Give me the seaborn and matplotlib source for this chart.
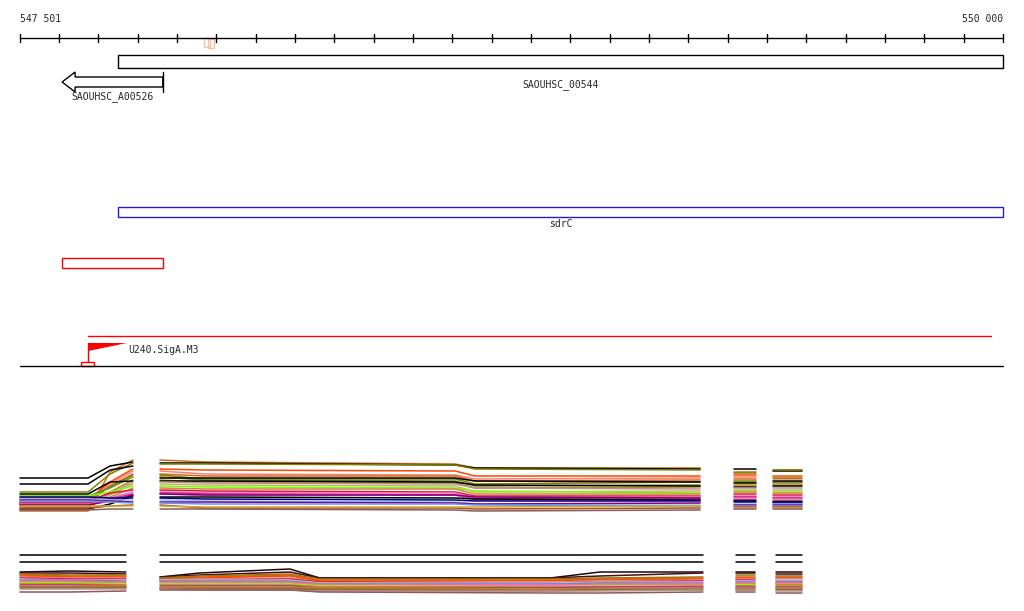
import matplotlib
matplotlib.use("Agg")
import matplotlib.pyplot as plt
from matplotlib.patches import Rectangle, Polygon
import seaborn as sns
import pandas as pd

# ---- genome region ----
region_start = 547501
region_end = 550000
ruler_ticks = [547501] + list(range(547600, 550001, 100))

# features (start, end)
gene_00544 = (547750, 550000)
gene_A00526 = (547608, 547864)
sdrC = (547750, 550000)
red_region = (547608, 547864)
pink_marks = [(547969, 547984), (547979, 547994)]
terminator_line = (547674, 549969)
promoter_pos = 547674
promoter_flag_end = 547773
promoter_box = (547656, 547689)

# ---- expression traces, panel 1 ----
p1_seg_pos = [
    [547501, 547674, 547730, 547788],
    [547857, 547971, 548607, 548658, 549230],
    [549316, 549372],
    [549415, 549489],
]
p1_colors = ["chocolate", "black", "olive", "orangered", "salmon", "chocolate",
             "olive", "olivedrab", "black", "darkgoldenrod", "black", "rosybrown",
             "darkkhaki", "lawngreen", "peru", "crimson", "hotpink",
             "mediumvioletred", "palevioletred", "purple", "black", "navy",
             "lightskyblue", "darkmagenta", "cornflowerblue", "sienna",
             "goldenrod", "#8b5a5a"]
p1_seg1 = [[1, 1, 40, 52], [34, 34, 46, 50], [20, 20, 38, 49], [12, 12, 30, 43],
           [10, 10, 28, 41], [9, 9, 26, 38], [14, 14, 25, 37], [16, 16, 24, 35],
           [28, 28, 42, 46], [8, 8, 20, 32], [18, 18, 30, 31], [7, 7, 18, 30],
           [6, 6, 17, 28], [16, 16, 20, 26], [5, 5, 15, 24], [11, 11, 19, 22],
           [10, 10, 14, 20], [9, 9, 13, 18], [8, 8, 12, 17], [7, 7, 11, 17],
           [3, 3, 8, 16], [15, 15, 14, 14], [13, 13, 12, 12], [12, 12, 11, 10],
           [11, 11, 10, 9], [4, 4, 6, 7], [6, 6, 6, 6], [2, 2, 3, 3]]
p1_seg2 = [[52, 50, 48, 44, 44], [49, 49, 47, 44, 43], [48, 48, 47, 43, 42],
           [43, 42, 41, 36, 36], [41, 38, 37, 33, 34], [38, 36, 36, 31, 32],
           [37, 33, 33, 28, 30], [35, 32, 31, 26, 27], [34, 34, 34, 31, 30],
           [32, 30, 29, 24, 25], [31, 31, 30, 27, 26], [30, 29, 28, 24, 23],
           [28, 27, 26, 20, 21], [26, 25, 24, 21, 19], [24, 23, 23, 18, 18],
           [22, 21, 20, 16, 16], [20, 19, 19, 14, 15], [19, 18, 17, 13, 13],
           [18, 17, 17, 12, 12], [18, 17, 17, 15, 14], [15, 15, 14, 13, 12],
           [14, 13, 12, 11, 11], [12, 11, 10, 8, 8], [10, 10, 9, 8, 9],
           [9, 8, 8, 7, 6], [7, 4, 4, 3, 4], [6, 5, 5, 5, 6], [3, 3, 2, 1, 2]]
p1_seg3 = [40, 43, 39, 37, 35, 33, 31, 30, 29, 27, 25, 24, 22, 21, 20, 18, 16,
           15, 14, 12, 11, 10, 8, 7, 6, 5, 4, 3]
p1_seg4 = [42, 41, 42, 36, 33, 30, 34, 29, 31, 27, 26, 24, 22, 20, 19, 17, 15,
           14, 13, 11, 10, 9, 8, 7, 6, 5, 4, 3]

# ---- expression traces, panel 2 ----
p2_seg_pos = [
    [547501, 547628, 547770],
    [547857, 547958, 548187, 548263, 548849, 548975, 549237],
    [549321, 549369],
    [549422, 549489],
]
p2_colors = ["black", "black", "#1a0a0a", "#4a0a1a", "olive", "chocolate",
             "orangered", "salmon", "crimson", "lightskyblue", "mediumpurple",
             "peru", "hotpink", "lawngreen", "darkgoldenrod", "#9b30b0",
             "tomato", "olivedrab", "sienna", "rosybrown", "#8b5a5a"]
p2_seg1 = [[40, 40, 40], [33, 33, 33], [23, 24, 23], [22, 22, 21], [21, 20, 20],
           [20, 19, 19], [19, 18, 18], [18, 17, 17], [17, 16, 16], [16, 15, 15],
           [15, 15, 14], [14, 14, 13], [13, 13, 12], [12, 12, 11], [11, 11, 10],
           [10, 10, 9], [9, 9, 9], [8, 8, 8], [7, 7, 7], [6, 6, 6], [3, 3, 4]]
p2_seg2 = [[40, 40, 40, 40, 40, 40, 40], [33, 33, 33, 33, 33, 33, 33],
           [18, 22, 26, 17, 17, 23, 23], [18, 20, 23, 17, 17, 19, 22],
           [17, 19, 21, 16, 16, 17, 18], [16, 18, 20, 15, 15, 16, 17],
           [16, 17, 19, 14, 14, 15, 16], [15, 16, 17, 13, 13, 14, 15],
           [14, 15, 16, 13, 12, 13, 14], [15, 15, 15, 12, 12, 13, 13],
           [14, 14, 14, 11, 11, 12, 12], [13, 13, 13, 11, 10, 11, 11],
           [12, 12, 12, 10, 10, 10, 11], [11, 11, 11, 9, 8, 9, 9],
           [10, 10, 10, 8, 8, 8, 9], [9, 9, 9, 7, 7, 8, 8],
           [8, 8, 8, 7, 6, 7, 7], [7, 7, 7, 6, 5, 6, 6],
           [6, 6, 6, 5, 4, 5, 5], [6, 5, 5, 4, 4, 4, 5], [5, 5, 5, 3, 2, 2, 3]]
p2_seg3 = [40, 33, 23, 22, 20, 18, 17, 16, 15, 14, 13, 12, 11, 10, 9, 8, 7, 6,
           5, 5, 3]
p2_seg4 = [40, 33, 23, 21, 19, 18, 17, 16, 14, 15, 13, 12, 11, 9, 10, 8, 7, 6,
           5, 4, 2]


def traces_frame(seg_pos, colors, segs):
    rows = []
    for t, color in enumerate(colors):
        for s, (pos, vals) in enumerate(zip(seg_pos, segs)):
            v = vals[t]
            if not isinstance(v, list):
                v = [v] * len(pos)
            for p, y in zip(pos, v):
                rows.append({"pos": p, "val": y, "trace": f"t{t}",
                             "unit": f"t{t}_s{s}"})
    df = pd.DataFrame(rows)
    palette = {f"t{t}": c for t, c in enumerate(colors)}
    return df, palette


sns.set_style("white")
plt.rcParams["font.family"] = ["DejaVu Sans Mono", "DejaVu Sans"]

W, H = 1024, 611
bp_per_px = (region_end - region_start) / 983
x0 = region_start - 20 * bp_per_px
x1 = x0 + W * bp_per_px

fig = plt.figure(figsize=(W / 100, H / 100), dpi=100)
ax = fig.add_axes([0, 0, 1, 1])
ax.set_xlim(x0, x1)
ax.set_ylim(H, 0)
ax.set_axis_off()

lw = 1.0
fs = 7

# ruler
ax.plot([region_start, region_end], [38, 38], color="black", lw=lw)
for t in ruler_ticks:
    ax.plot([t, t], [34, 42], color="black", lw=lw)
ax.text(region_start, 19, "547 501", ha="left", va="center", fontsize=fs)
ax.text(region_end, 19, "550 000", ha="right", va="center", fontsize=fs)
for i, (s, e) in enumerate(pink_marks):
    ax.add_patch(Rectangle((s, 38 + i), e - s, 9, fill=False,
                           edgecolor="#f5c0a8", lw=lw))

# genes
s, e = gene_00544
ax.add_patch(Rectangle((s, 55), e - s, 13, fill=False, edgecolor="black", lw=lw))
ax.text((s + e) / 2, 85, "SAOUHSC_00544", ha="center", va="center", fontsize=fs)

s, e = gene_A00526
head = s + 13 * bp_per_px
ax.add_patch(Polygon([(e, 77), (head, 77), (head, 72), (s, 82), (head, 92),
                      (head, 87), (e, 87)], closed=True, fill=False,
                     edgecolor="black", lw=lw))
ax.plot([e, e], [72, 92], color="black", lw=lw)
ax.text((s + e) / 2, 97, "SAOUHSC_A00526", ha="center", va="center", fontsize=fs)

s, e = sdrC
ax.add_patch(Rectangle((s, 207), e - s, 10, fill=False, edgecolor="#2020d0", lw=lw))
ax.text((s + e) / 2, 224, "sdrC", ha="center", va="center", fontsize=fs)

s, e = red_region
ax.add_patch(Rectangle((s, 258), e - s, 10, fill=False, edgecolor="red", lw=lw))

# promoter / terminator track
ax.plot(list(terminator_line), [336, 336], color="red", lw=lw)
ax.plot([promoter_pos, promoter_pos], [343, 362], color="red", lw=lw)
ax.add_patch(Polygon([(promoter_pos, 343), (promoter_flag_end, 343),
                      (promoter_pos, 351)], closed=True, color="red", lw=0))
ax.text(promoter_flag_end + 3, 350, "U240.SigA.M3", ha="left", va="center",
        fontsize=fs)
s, e = promoter_box
ax.add_patch(Rectangle((s, 362), e - s, 4, fill=False, edgecolor="red", lw=lw))
ax.plot([region_start, region_end], [366, 366], color="black", lw=lw)

# expression panels
panels = [
    (p1_seg_pos, p1_colors, [p1_seg1, p1_seg2, p1_seg3, p1_seg4], 455, 515, 512),
    (p2_seg_pos, p2_colors, [p2_seg1, p2_seg2, p2_seg3, p2_seg4], 545, 600, 595),
]
for seg_pos, colors, segs, top, bottom, base in panels:
    pax = fig.add_axes([0, (H - bottom) / H, 1, (bottom - top) / H])
    df, pal = traces_frame(seg_pos, colors, segs)
    sns.lineplot(data=df, x="pos", y="val", hue="trace", units="unit",
                 estimator=None, palette=pal, legend=False, sort=False,
                 lw=1.1, ax=pax)
    pax.set_xlim(x0, x1)
    pax.set_ylim(base - bottom, base - top)
    pax.set_axis_off()

fig.savefig("out.png", dpi=100)
